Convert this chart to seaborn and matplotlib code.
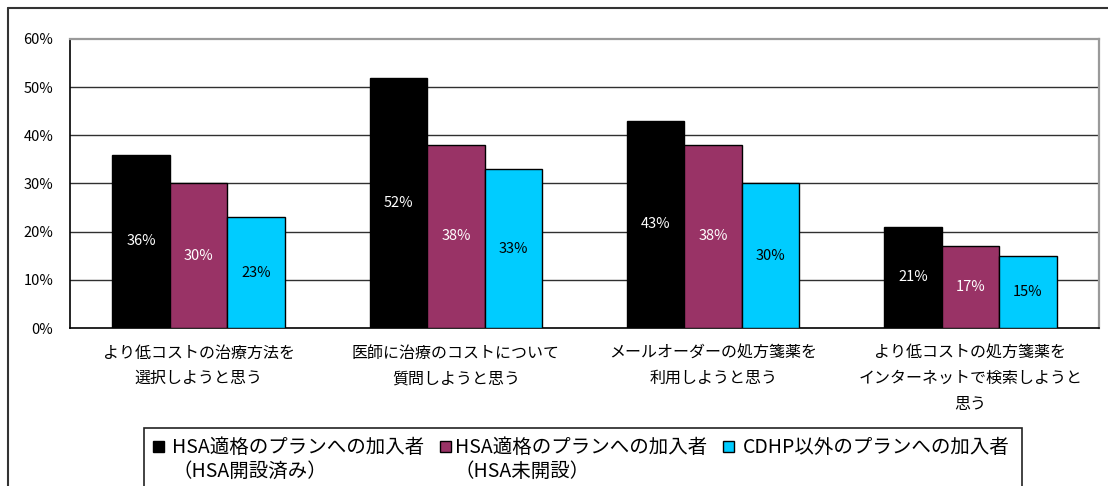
import matplotlib
matplotlib.use("Agg")
import matplotlib.pyplot as plt
import seaborn as sns
import pandas as pd
from matplotlib.patches import Rectangle
from matplotlib.lines import Line2D

# ---- data ----
categories = [
    "より低コストの治療方法を\n選択しようと思う",
    "医師に治療のコストについて\n質問しようと思う",
    "メールオーダーの処方箋薬を\n利用しようと思う",
    "より低コストの処方箋薬を\nインターネットで検索しようと\n思う",
]
series = [
    "HSA適格のプランへの加入者\n（HSA開設済み）",
    "HSA適格のプランへの加入者\n（HSA未開設）",
    "CDHP以外のプランへの加入者",
]
hsa_opened = [36, 52, 43, 21]
hsa_not_opened = [30, 38, 38, 17]
non_cdhp = [23, 33, 30, 15]
y_ticks = [0, 10, 20, 30, 40, 50, 60]

colors = ["#000000", "#993366", "#00CCFF"]
label_colors = ["#ffffff", "#ffffff", "#000000"]

sns.set_theme(style="white")
plt.rcParams["font.family"] = ["Noto Sans CJK JP", "DejaVu Sans"]

W, H = 1108, 486
fig = plt.figure(figsize=(W / 100, H / 100), dpi=100)


def fx(x):
    return x / W


def fy(y):
    return 1 - y / H


ax = fig.add_axes([fx(70), fy(328), fx(1099) - fx(70), fy(39) - fy(328)])

rows = []
for name, vals in zip(series, [hsa_opened, hsa_not_opened, non_cdhp]):
    for cat, v in zip(categories, vals):
        rows.append({"category": cat, "series": name, "value": v})
df = pd.DataFrame(rows)

sns.barplot(
    data=df, x="category", y="value", hue="series",
    order=categories, hue_order=series, palette=colors,
    width=0.67, gap=0, edgecolor="black", linewidth=1.0,
    saturation=1, legend=False, ax=ax, zorder=3,
)

for cont, lc in zip(ax.containers, label_colors):
    ax.bar_label(cont, labels=[f"{v:.0f}%" for v in cont.datavalues],
                 label_type="center", color=lc, fontsize=10.5)

ax.set_ylim(0, 60)
ax.set_xlim(-0.5, len(categories) - 0.5)
ax.set_yticks(y_ticks)
ax.set_yticklabels([f"{t}%" for t in y_ticks], fontsize=10.5)
ax.set_xlabel("")
ax.set_ylabel("")
for t in ax.get_xticklabels():
    t.set_fontsize(11.5)
    t.set_multialignment("center")
    t.set_linespacing(1.65)
ax.tick_params(axis="y", length=0, pad=12, colors="black")
ax.tick_params(axis="x", length=0, pad=12, colors="black")
for t in y_ticks[1:-1]:
    ax.axhline(t, color="#303030", linewidth=1.0, zorder=1)

ax.spines["left"].set_color("black")
ax.spines["bottom"].set_color("black")
ax.spines["left"].set_linewidth(1.2)
ax.spines["bottom"].set_linewidth(1.2)
ax.spines["top"].set_color("#9a9a9a")
ax.spines["right"].set_color("#9a9a9a")
ax.spines["top"].set_linewidth(1.6)
ax.spines["right"].set_linewidth(1.6)

# outer chart frame (top and left edges)
fig.add_artist(Line2D([fx(8), fx(8)], [fy(8), 0], color="#333333", linewidth=1.5))
fig.add_artist(Line2D([fx(8), 1], [fy(8), fy(8)], color="#333333", linewidth=1.5))

# legend box
fig.add_artist(Rectangle((fx(144), fy(500)), fx(1022) - fx(144), fy(428) - fy(500),
                         transform=fig.transFigure, facecolor="white",
                         edgecolor="#222222", linewidth=1.2))
marker_x = [153, 440, 723]
text_x = [172, 455, 743]
for name, c, mx, tx in zip(series, colors, marker_x, text_x):
    fig.add_artist(Rectangle((fx(mx), fy(452)), fx(11), 11 / H,
                             transform=fig.transFigure, facecolor=c,
                             edgecolor="black", linewidth=1.0))
    for i, line in enumerate(name.split("\n")):
        fig.text(fx(tx), fy(447 + 24 * i), line, fontsize=14,
                 ha="left", va="center", color="black")

fig.savefig("out.png", dpi=100)
